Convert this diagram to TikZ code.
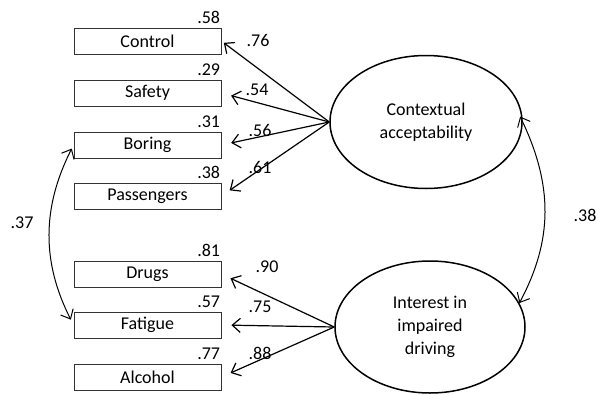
\documentclass[tikz,border=0pt]{standalone}
\usepackage{fontspec}
\setmainfont{Carlito}
\usetikzlibrary{arrows.meta, shapes.geometric}

\begin{document}
\begin{tikzpicture}[
            x = 1pt, y = 1pt, % work in pixels of the figure
            > = {Straight Barb[length=8pt, width=14pt]}, % open arrow head
            semithick, % line style
            font = \fontsize{18}{23}\selectfont
        ]

        \tikzstyle{item}=[
            draw = black!80,
            line width = 0.8pt,
            minimum width = 147pt,
            minimum height = 26pt,
            inner sep = 0pt
        ]
        \tikzstyle{factor}=[
            draw = black,
            ellipse,
            line width = 1.5pt,
            align = center,
            inner sep = 0pt
        ]
        \tikzstyle{err}=[anchor = south east, inner xsep = 1pt, inner ysep = 4pt]
        \tikzstyle{load}=[->, line width = 1.2pt, shorten > = 10pt]
        \tikzstyle{cov}=[<->, line width = 1pt]

        \useasboundingbox (0,0) rectangle (597,-394);

        \node[item, label={[err]north east:.58}] (control) at (147.5,-41)  {Control};
        \node[item, label={[err]north east:.29}] (safety)  at (147.5,-93)  {Safety};
        \node[item, label={[err]north east:.31}] (boring)  at (147.5,-145) {Boring};
        \node[item, label={[err]north east:.38}] (pass)    at (147.5,-196) {Passengers};

        \node[item, label={[err]north east:.81}] (drugs)   at (147.5,-274) {Drugs};
        \node[item, label={[err]north east:.57}] (fatigue) at (147.5,-325) {Fatigue};
        \node[item, label={[err]north east:.77}] (alcohol) at (147.5,-377) {Alcohol};

        \node[factor, minimum width=192pt, minimum height=133pt] (ca)  at (426,-122) {Contextual\\acceptability};
        \node[factor, minimum width=190pt, minimum height=132pt] (iid) at (430,-327) {Interest in\\impaired\\driving};

        \path[load, shorten > = 3pt] (ca.west) edge node {} (control.east);
        \path[load] (ca.west) edge node {} (safety.east);
        \path[load] (ca.west) edge node {} (boring.east);
        \path[load] (ca.west) edge node {} (pass.east);

        \path[load] (iid.west) edge node {} (drugs.east);
        \path[load] (iid.west) edge node {} (fatigue.east);
        \path[load] (iid.west) edge node {} (alcohol.east);

        \node (l1) at (258,-40)  {.76};
        \node (l2) at (257,-90)  {.54};
        \node (l3) at (260,-130) {.56};
        \node (l4) at (260,-167) {.61};
        \node (l5) at (267,-267) {.90};
        \node (l6) at (260,-307) {.75};
        \node (l7) at (260,-353) {.88};

        % correlations
        \draw[cov, shorten < = 4pt, shorten > = 6pt] (boring.west) to[bend right=27] (fatigue.west);
        \draw[cov, shorten < = -6pt] (ca.east) to[bend left=27] (iid.15);

        \node (r1) at (22,-223)  {.37};
        \node (r2) at (585,-215) {.38};
    \end{tikzpicture}
\end{document}
